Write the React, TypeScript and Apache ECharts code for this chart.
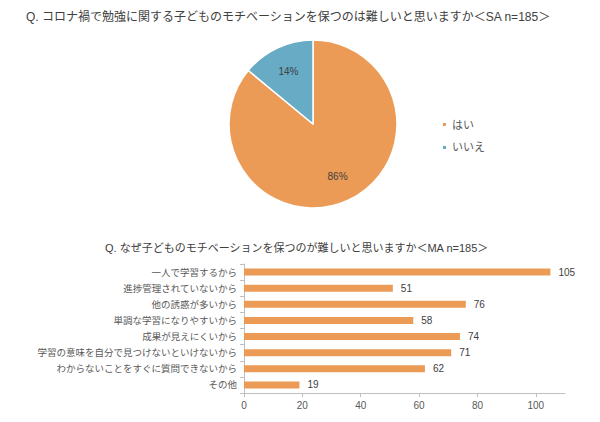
import React, { useEffect, useRef } from "react";
import * as echarts from "echarts";

const pieTitle = "Q. コロナ禍で勉強に関する子どものモチベーションを保つのは難しいと思いますか＜SA n=185＞";
const pieNames = ["はい", "いいえ"];
const pieValues = [86, 14];
const pieColors = ["#EC9B57", "#67ABC5"];

const barTitle = "Q. なぜ子どものモチベーションを保つのが難しいと思いますか＜MA n=185＞";
const barCategories = [
  "一人で学習するから",
  "進捗管理されていないから",
  "他の誘惑が多いから",
  "単調な学習になりやすいから",
  "成果が見えにくいから",
  "学習の意味を自分で見つけないといけないから",
  "わからないことをすぐに質問できないから",
  "その他",
];
const barValues = [105, 51, 76, 58, 74, 71, 62, 19];
const xTicks = [0, 20, 40, 60, 80, 100];

const FONT = "'Liberation Sans', 'Noto Sans CJK JP', sans-serif";

export default function App() {
  const ref = useRef<HTMLDivElement>(null);
  useEffect(() => {
    document.body.style.margin = "0";
    if (!ref.current) return;
    const chart = echarts.init(ref.current, null, { renderer: "svg" });
    const cx = 313;
    const cy = 124;
    const r = 84;
    chart.setOption({
      animation: false,
      backgroundColor: "#ffffff",
      textStyle: { fontFamily: FONT },
      title: [
        {
          text: pieTitle,
          left: 26,
          top: 11,
          padding: 0,
          textStyle: { fontSize: 12, fontWeight: "normal", color: "#404040", fontFamily: FONT },
        },
        {
          text: barTitle,
          left: 105,
          top: 242,
          padding: 0,
          textStyle: { fontSize: 11, fontWeight: "normal", color: "#404040", fontFamily: FONT },
        },
      ],
      legend: {
        data: pieNames,
        orient: "vertical",
        left: 436,
        top: 114,
        icon: "rect",
        itemWidth: 5,
        itemHeight: 5,
        itemGap: 12,
        textStyle: { fontSize: 11, color: "#595959", fontFamily: FONT },
      },
      grid: { left: 244, right: 35, top: 264, bottom: 29 },
      xAxis: {
        type: "value",
        min: 0,
        max: 110,
        interval: 20,
        splitLine: { show: false },
        axisLine: { show: true, lineStyle: { color: "#BFBFBF" } },
        axisTick: { show: true, length: 4, lineStyle: { color: "#BFBFBF" }, customValues: xTicks },
        axisLabel: { fontSize: 10, color: "#595959", margin: 7, customValues: xTicks, fontFamily: FONT },
      },
      yAxis: {
        type: "category",
        inverse: true,
        data: barCategories,
        axisLine: { show: true, lineStyle: { color: "#BFBFBF" } },
        axisTick: { show: true, length: 4, lineStyle: { color: "#BFBFBF" } },
        axisLabel: { fontSize: 9.5, color: "#595959", margin: 7, fontFamily: FONT },
      },
      series: [
        {
          type: "pie",
          center: [cx, cy],
          radius: r,
          startAngle: 90,
          clockwise: true,
          data: pieNames.map((n, i) => ({ name: n, value: pieValues[i], itemStyle: { color: pieColors[i] } })),
          itemStyle: { borderColor: "#ffffff", borderWidth: 1.5 },
          label: {
            show: true,
            position: "inside",
            formatter: "{d}%",
            fontSize: 10,
            color: "#404040",
            fontFamily: FONT,
          },
          labelLayout: (params: any) => {
            const lr = params.labelRect;
            const lx = lr.x + lr.width / 2;
            const ly = lr.y + lr.height / 2;
            const k = 0.64 / 0.5;
            return { x: cx + (lx - cx) * k, y: cy + (ly - cy) * k, align: "center", verticalAlign: "middle" };
          },
          labelLine: { show: false },
          emphasis: { disabled: true },
        },
        {
          type: "bar",
          data: barValues,
          barWidth: 7,
          itemStyle: { color: "#EC9B57" },
          label: {
            show: true,
            position: "right",
            distance: 8,
            fontSize: 10,
            color: "#404040",
            fontFamily: FONT,
          },
          emphasis: { disabled: true },
        },
      ],
    });
    return () => chart.dispose();
  }, []);
  return <div ref={ref} style={{ width: 600, height: 422 }} />;
}
